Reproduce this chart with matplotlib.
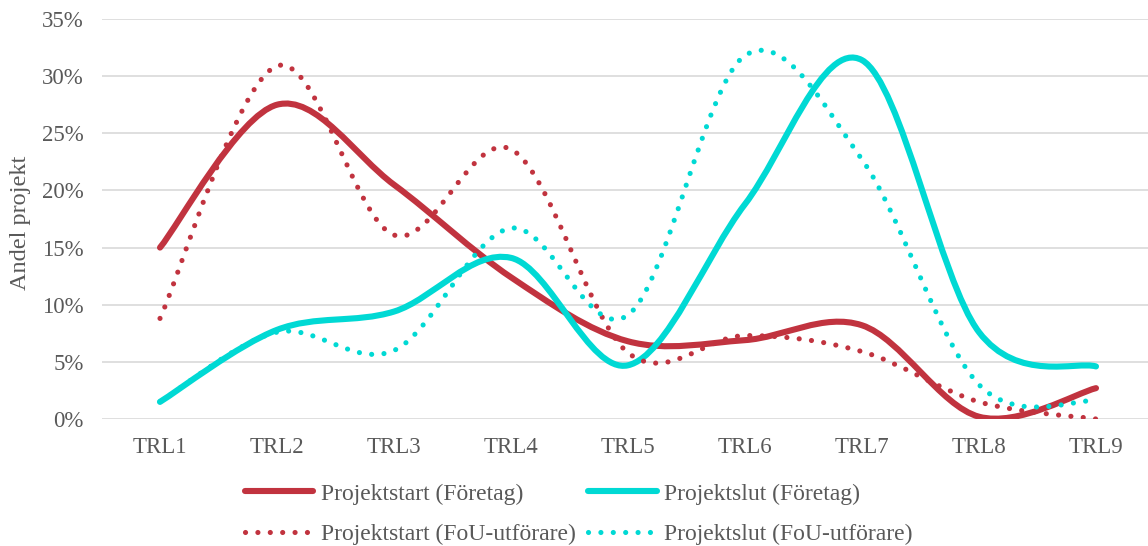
import numpy as np
import matplotlib
matplotlib.use("Agg")
import matplotlib.pyplot as plt
from matplotlib.path import Path
from matplotlib.patches import PathPatch
from matplotlib.lines import Line2D

plt.rcParams['font.family'] = ['Liberation Serif', 'DejaVu Serif']

categories = ["TRL1", "TRL2", "TRL3", "TRL4", "TRL5", "TRL6", "TRL7", "TRL8", "TRL9"]

start_foretag = [15.0, 27.5, 20.5, 12.4, 6.8, 6.9, 8.2, 0.2, 2.7]
slut_foretag = [1.5, 7.8, 9.4, 14.1, 4.7, 18.8, 31.4, 7.6, 4.6]
start_fou = [8.8, 30.9, 16.1, 23.6, 5.8, 7.3, 5.9, 1.5, 0.0]
slut_fou = [1.5, 7.6, 6.0, 16.7, 9.1, 31.8, 22.7, 3.0, 1.6]

labels = ["Projektstart (Företag)", "Projektslut (Företag)",
          "Projektstart (FoU-utförare)", "Projektslut (FoU-utförare)"]

RED = "#C1333F"
CYAN = "#00D9D4"
TEXT = "#595959"
GRID = "#D9D9D9"


def smooth_path(xs, ys):
    """Cubic Bezier path through the points, Catmull-Rom style tangents."""
    pts = np.column_stack([xs, ys]).astype(float)
    n = len(pts)
    verts = [pts[0]]
    codes = [Path.MOVETO]
    for i in range(n - 1):
        p0 = pts[i - 1] if i > 0 else pts[i]
        p1 = pts[i]
        p2 = pts[i + 1]
        p3 = pts[i + 2] if i + 2 < n else pts[i + 1]
        c1 = p1 + (p2 - p0) / 6.0
        c2 = p2 - (p3 - p1) / 6.0
        verts += [c1, c2, p2]
        codes += [Path.CURVE4] * 3
    return Path(verts, codes)


fig = plt.figure(figsize=(11.48, 5.46), dpi=100)
ax = fig.add_axes([101.5 / 1148, 127 / 546, 1053 / 1148, 400 / 546])

x = np.arange(len(categories))
solid_lw = 4.4
dot_lw = 3.7
dot_style = (0, (0.01, 2.4))

series = [
    (start_foretag, RED, "-"),
    (slut_foretag, CYAN, "-"),
    (start_fou, RED, dot_style),
    (slut_fou, CYAN, dot_style),
]

for vals, color, ls in series:
    patch = PathPatch(smooth_path(x, vals), fill=False, edgecolor=color,
                      linewidth=solid_lw if ls == "-" else dot_lw,
                      linestyle=ls, capstyle="round", joinstyle="round",
                      zorder=3)
    ax.add_patch(patch)

ax.set_xlim(-0.5, len(categories) - 0.5)
ax.set_ylim(0, 35)
ax.set_yticks(np.arange(0, 36, 5))
ax.set_yticklabels([f"{v}%" for v in range(0, 36, 5)])
ax.set_xticks(x)
ax.set_xticklabels(categories)
ax.grid(axis="y", color=GRID, linewidth=1.2, zorder=0)
ax.set_axisbelow(True)
for s in ax.spines.values():
    s.set_visible(False)
ax.tick_params(axis="both", length=0, labelsize=16.5, colors=TEXT)
ax.tick_params(axis="y", pad=13)
ax.tick_params(axis="x", pad=13)
ax.set_ylabel("Andel projekt", fontsize=17.5, color=TEXT)
ax.yaxis.set_label_coords(-0.067, 0.49)

handles = [
    Line2D([], [], color=RED, lw=solid_lw, solid_capstyle="round"),
    Line2D([], [], color=RED, lw=dot_lw, linestyle=dot_style, dash_capstyle="round"),
    Line2D([], [], color=CYAN, lw=solid_lw, solid_capstyle="round"),
    Line2D([], [], color=CYAN, lw=dot_lw, linestyle=dot_style, dash_capstyle="round"),
]
leg_labels = [labels[0], labels[2], labels[1], labels[3]]
leg = fig.legend(handles, leg_labels, ncol=2, loc="upper left",
                 bbox_to_anchor=(245 / 1148, 1 - 483 / 546),
                 frameon=False, fontsize=17, handlelength=2.9,
                 handletextpad=0.3, columnspacing=0.55, labelspacing=0.8,
                 borderpad=0, borderaxespad=0)
for t in leg.get_texts():
    t.set_color(TEXT)

fig.savefig("out.png", dpi=100)
